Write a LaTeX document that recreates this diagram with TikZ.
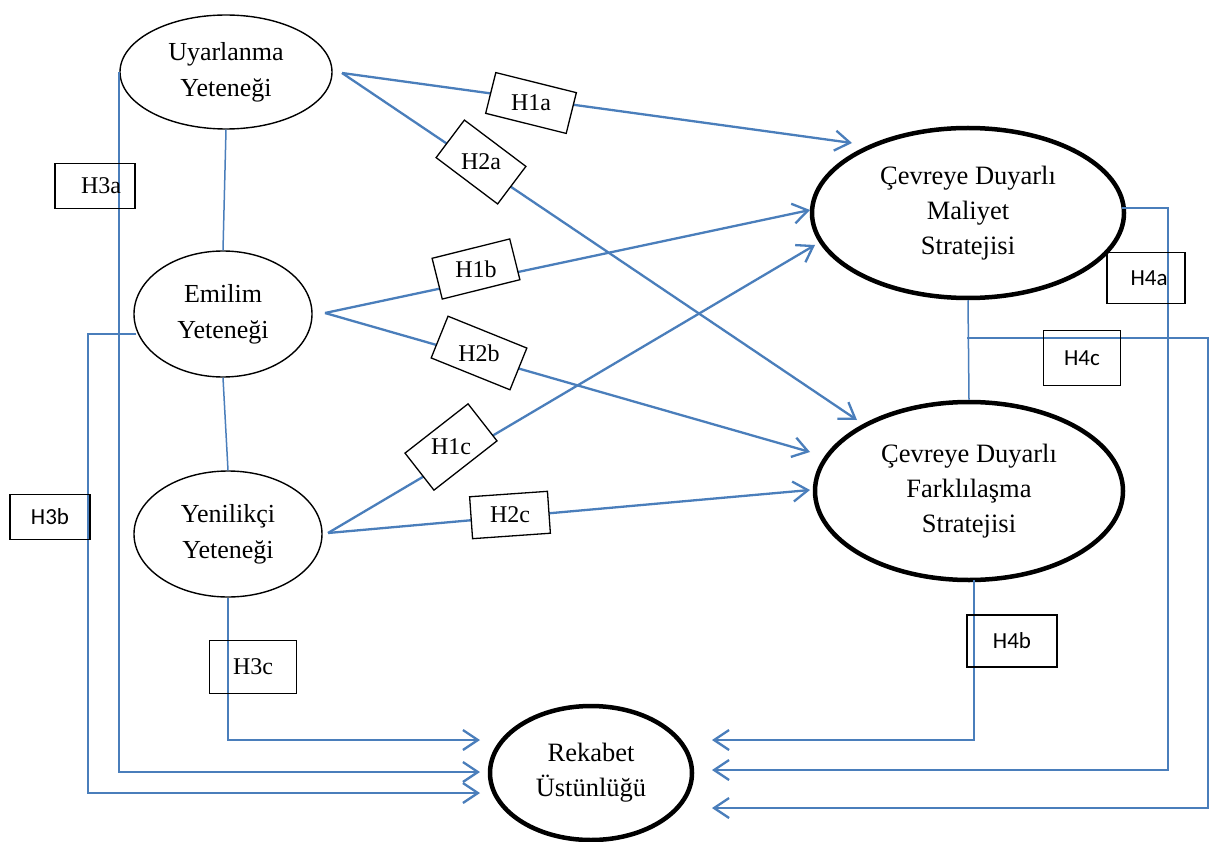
\documentclass[tikz,border=0pt]{standalone}
\usepackage{fontspec}
\setmainfont{Liberation Serif}
\newfontfamily\calib{Carlito}
\usetikzlibrary{shapes.geometric,arrows.meta,calc}
\definecolor{lblue}{HTML}{4A7EBB}
\begin{document}
\begin{tikzpicture}[x=1pt,y=-1pt,
 conn/.style={draw=lblue,line width=2.3pt},
 arr/.style={conn,-{Straight Barb[length=15pt,width=20pt,line width=2.3pt]}},
 thinell/.style={ellipse,draw,line width=1.4pt,inner sep=0pt,align=center,font=\fontsize{26}{36}\selectfont},
 thickell/.style={thinell,line width=4.5pt,font=\fontsize{26.5}{35}\selectfont},
 hbox/.style={draw,line width=1.3pt,fill=white,inner sep=0pt},
 htext/.style={inner sep=0pt,font=\fontsize{24}{26}\selectfont},
 sbox/.style={draw,line width=1.3pt,inner sep=0pt,font=\calib\fontsize{23}{24}\selectfont},
 rbox/.style={draw,line width=1.3pt,inner sep=0pt,font=\fontsize{24}{26}\selectfont}
]
\useasboundingbox (0,0) rectangle (1209,842);
\fill[white] (0,0) rectangle (1209,842);

% ellipses
\node[thinell,minimum width=212pt,minimum height=114pt] (u) at (226,72) {Uyarlanma\\Yeteneği};
\node[thinell,minimum width=178pt,minimum height=126pt] (e) at (223,314) {Emilim\\Yeteneği};
\node[thinell,minimum width=188pt,minimum height=126pt] (y) at (228,534) {Yenilikçi\\Yeteneği};
\node[thickell,minimum width=312pt,minimum height=170pt] (m) at (968,213) {Çevreye Duyarlı\\Maliyet\\Stratejisi};
\node[thickell,minimum width=308pt,minimum height=178pt] (f) at (969,491) {Çevreye Duyarlı\\Farklılaşma\\Stratejisi};
\node[thickell,minimum width=202pt,minimum height=134pt] (r) at (591,773) {Rekabet\\Üstünlüğü};

% coordinates
\coordinate (ua) at (342,73);
\coordinate (ea) at (325,313);
\coordinate (ya) at (328,533);
\coordinate (m1) at (852,143);
\coordinate (m2) at (810,210);
\coordinate (m3) at (815,245);
\coordinate (f1) at (857,420);
\coordinate (f2) at (810,452);
\coordinate (f3) at (810,490);
\coordinate (r3c) at (480,740);
\coordinate (r3a) at (480,772);
\coordinate (r3b) at (480,793);
\coordinate (r4b) at (712,740);
\coordinate (r4a) at (712,770);
\coordinate (r4c) at (712,808);
\coordinate (eb) at (136,334);
\coordinate (k3b) at (88,793);
\coordinate (ma) at (1122,208);
\coordinate (k4a) at (1168,770);
\coordinate (fb) at (974,580);
\coordinate (c4) at (967,338);
\coordinate (k4c) at (1208,808);

% links between constructs
\draw[conn,line width=1.5pt] (u.south) -- (e.north);
\draw[conn,line width=1.5pt] (e.south) -- (y.north);
\draw[conn,line width=1.5pt] (m.south) -- (f.north);

% hypotheses arrows
\draw[arr] (ua) -- (m1);
\draw[arr] (ua) -- (f1);
\draw[arr] (ea) -- (m2);
\draw[arr] (ea) -- (f2);
\draw[arr] (ya) -- (m3);
\draw[arr] (ya) -- (f3);

\draw[arr] (u.west) |- (r3a);
\draw[arr] (eb) -| (k3b) -- (r3b);
\draw[arr] (y.south) |- (r3c);
\draw[arr] (ma) -| (k4a) -- (r4a);
\draw[arr] (fb) |- (r4b);
\draw[arr] (c4) -| (k4c) -- (r4c);

% rotated label boxes with upright text
\node[hbox,minimum width=83pt,minimum height=42pt,rotate=-14] (h1a) at (531,103) {};
\node[htext] at (h1a) {H1a};
\node[hbox,minimum width=77pt,minimum height=47pt,rotate=-37] (h2a) at (481,162) {};
\node[htext] at (h2a) {H2a};
\node[hbox,minimum width=80pt,minimum height=42pt,rotate=14] (h1b) at (476,269) {};
\node[htext] at (h1b) {H1b};
\node[hbox,minimum width=85pt,minimum height=45pt,rotate=-22] (h2b) at (479,353) {};
\node[htext] at (h2b) {H2b};
\node[hbox,minimum width=80pt,minimum height=47pt,rotate=38] (h1c) at (451,447) {};
\node[htext] at (h1c) {H1c};
\node[hbox,minimum width=78pt,minimum height=42pt,rotate=4] (h2c) at (510,515) {};
\node[htext] at (h2c) {H2c};

\node[rbox,minimum width=80pt,minimum height=45pt] (h3a) at (95,186) {\hspace*{12pt}H3a};
\node[sbox,minimum width=80pt,minimum height=45pt] (h3b) at (50,517) {H3b};
\node[rbox,minimum width=87pt,minimum height=53pt] (h3c) at (253,667) {H3c};
\node[sbox,minimum width=78pt,minimum height=51pt] (h4a) at (1146,278) {\hspace*{6pt}H4a};
\node[sbox,minimum width=90pt,minimum height=52pt] (h4b) at (1012,641) {H4b};
\node[sbox,minimum width=77pt,minimum height=55pt] (h4c) at (1082,358) {H4c};
\end{tikzpicture}
\end{document}
